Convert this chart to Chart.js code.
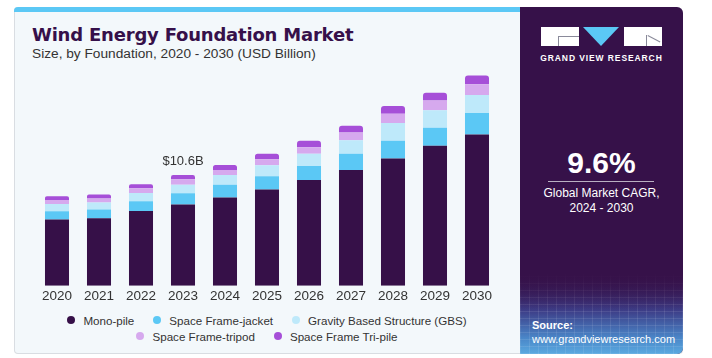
<!DOCTYPE html>
<html>
<head>
<meta charset="utf-8">
<script src="https://cdn.jsdelivr.net/npm/chart.js@4"></script>
<style>
  html, body { margin: 0; padding: 0; background: #ffffff; }
  body { width: 712px; height: 358px; position: relative; overflow: hidden; font-family: "Liberation Sans", Arial, sans-serif; }
  #card { position: absolute; left: 14px; top: 7px; width: 669px; height: 347px; background: #f3f8fb; border: 1px solid #d9dde2; border-top: none; border-radius: 4px 6px 4px 4px; box-sizing: border-box; }
  #stripe { position: absolute; left: 14px; top: 7px; width: 507px; height: 5px; background: #5bc8f5; border-radius: 4px 0 0 0; }
  #title { position: absolute; left: 32px; top: 24px; font-family: "DejaVu Sans", sans-serif; font-weight: bold; font-size: 18px; color: #36104a; white-space: nowrap; letter-spacing: -0.2px; }
  #subtitle { position: absolute; left: 32px; top: 46px; font-size: 13.7px; color: #333; white-space: nowrap; }
  #chartwrap { position: absolute; left: 14px; top: 56px; width: 506px; height: 256px; }
  #legend { position: absolute; left: 14px; width: 506px; top: 312px; font-size: 11.6px; color: #333; }
  .lrow { display: flex; justify-content: center; height: 16px; align-items: center; }
  .litem { display: flex; align-items: center; margin: 0 9.5px; white-space: nowrap; }
  .ldot { width: 8px; height: 8px; border-radius: 50%; margin-right: 8px; }
  #panel { position: absolute; left: 520px; top: 7px; width: 163px; height: 347px; background: #361149; border-radius: 0 6px 6px 0; overflow: hidden; }
  #panelglow { position: absolute; left: 0; bottom: 0; width: 163px; height: 80px;
    background:
      repeating-linear-gradient(90deg, rgba(255,255,255,0.09) 0 1px, transparent 1px 9px),
      repeating-linear-gradient(0deg, rgba(255,255,255,0.09) 0 1px, transparent 1px 7px),
      linear-gradient(180deg, rgba(54,17,73,0) 0%, #3d3c86 45%, #4a86c8 80%, #5aa9e0 100%); }
  #panelglow::before { content: ""; position: absolute; left: 0; top: 0; width: 100%; height: 45%; background: linear-gradient(180deg, #361149 0%, rgba(54,17,73,0) 100%); }
  .logobox { position: absolute; top: 20px; height: 19px; background: #ffffff; }
  #lb1 { left: 21px; width: 38px; }
  #lb3 { left: 104px; width: 38px; }
  #ltri { position: absolute; left: 63px; top: 20px; width: 0; height: 0; border-left: 18.5px solid transparent; border-right: 18.5px solid transparent; border-top: 19px solid #5bc8f5; }
  #lb1 .g1 { position: absolute; left: 17px; top: 9px; width: 21px; height: 1px; background: #8a8a9a; }
  #lb1 .g2 { position: absolute; left: 17px; top: 9px; width: 1px; height: 10px; background: #8a8a9a; }
  #lb3 .r1 { position: absolute; left: 24px; top: 8px; width: 14px; height: 1px; background: #8a8a9a; transform: rotate(28deg); transform-origin: 0 0; }
  #lb3 .r2 { position: absolute; left: 22px; top: 8px; width: 1px; height: 11px; background: #8a8a9a; }
  #gvr { position: absolute; left: 0; width: 163px; top: 46px; text-align: center; color: #fff; font-weight: bold; font-size: 8.5px; letter-spacing: 0.9px; }
  #cagr { position: absolute; left: 0; width: 163px; top: 139px; text-align: center; color: #fff; font-weight: bold; font-size: 30px; }
  #cline { position: absolute; left: 28px; width: 106px; top: 174px; height: 1px; background: #b9b0c2; }
  #cagrtxt { position: absolute; left: 0; width: 163px; top: 179px; text-align: center; color: #fff; font-size: 12px; line-height: 15px; }
  #src { position: absolute; left: 12px; top: 311px; color: #fff; font-size: 11px; line-height: 14px; }
</style>
</head>
<body>
<div id="card"></div>
<div id="stripe"></div>
<div id="title">Wind Energy Foundation Market</div>
<div id="subtitle">Size, by Foundation, 2020 - 2030 (USD Billion)</div>
<div id="chartwrap"><canvas id="c" width="506" height="256"></canvas></div>
<div id="legend"></div>
<div id="panel">
  <div id="panelglow"></div>
  <div class="logobox" id="lb1"><div class="g1"></div><div class="g2"></div></div>
  <div id="ltri"></div>
  <div class="logobox" id="lb3"><div class="r1"></div><div class="r2"></div></div>
  <div id="gvr">GRAND VIEW RESEARCH</div>
  <div id="cagr">9.6%</div>
  <div id="cline"></div>
  <div id="cagrtxt">Global Market CAGR,<br>2024 - 2030</div>
  <div id="src"><b>Source:</b><br>www.grandviewresearch.com</div>
</div>
<script>
const years = ["2020","2021","2022","2023","2024","2025","2026","2027","2028","2029","2030"];
const seriesNames = ["Mono-pile","Space Frame-jacket","Gravity Based Structure (GBS)","Space Frame-tripod","Space Frame Tri-pile"];
const seriesColors = ["#361048","#5bc8f5","#bee9fa","#d6a9ee","#a64fd8"];
const monoPile     = [6.35, 6.47, 7.17, 7.79, 8.46, 9.23, 10.13, 11.09, 12.18, 13.40, 14.49];
const frameJacket  = [0.79, 0.83, 0.93, 1.06, 1.22, 1.25, 1.35, 1.54, 1.70, 1.73, 2.05];
const gbs          = [0.69, 0.67, 0.79, 0.83, 0.93, 1.06, 1.15, 1.31, 1.70, 1.67, 1.73];
const frameTripod  = [0.38, 0.38, 0.44, 0.51, 0.48, 0.58, 0.64, 0.74, 0.90, 0.93, 1.03];
const frameTriPile = [0.37, 0.38, 0.40, 0.42, 0.48, 0.51, 0.61, 0.64, 0.74, 0.74, 0.83];
const annotationYear = "2023";
const annotationText = "$10.6B";
const seriesValues = [monoPile, frameJacket, gbs, frameTripod, frameTriPile];

const datasets = seriesValues.map((vals, i) => ({
  label: seriesNames[i],
  data: vals,
  backgroundColor: seriesColors[i],
  borderWidth: 0,
  borderRadius: i === seriesValues.length - 1 ? {topLeft: 3, topRight: 3, bottomLeft: 0, bottomRight: 0} : 0,
  borderSkipped: false,
  barPercentage: 0.8,
  categoryPercentage: 0.715
}));

const annotate = {
  id: 'annotate',
  afterDatasetsDraw(chart) {
    const idx = years.indexOf(annotationYear);
    const metas = chart.data.datasets.map((d, i) => chart.getDatasetMeta(i));
    const top = metas[metas.length - 1].data[idx];
    const ctx = chart.ctx;
    ctx.save();
    ctx.font = '13px "Liberation Sans", Arial, sans-serif';
    ctx.fillStyle = '#333333';
    ctx.textAlign = 'center';
    ctx.textBaseline = 'alphabetic';
    ctx.fillText(annotationText, top.x, top.y - 10);
    ctx.restore();
  }
};

const chart = new Chart(document.getElementById('c'), {
  type: 'bar',
  data: { labels: years, datasets },
  options: {
    responsive: false,
    animation: false,
    devicePixelRatio: 1,
    layout: { padding: { left: 22, right: 22, top: 0, bottom: 6 } },
    plugins: { legend: { display: false }, tooltip: { enabled: false } },
    scales: {
      x: {
        stacked: true,
        grid: { display: false, drawTicks: false },
        border: { display: false },
        ticks: { color: '#333333', font: { size: 13.5, family: '"Liberation Sans", Arial, sans-serif' }, padding: 2, maxRotation: 0 }
      },
      y: {
        stacked: true,
        display: false,
        min: 0,
        max: 22
      }
    }
  },
  plugins: [annotate]
});

// HTML legend built from the series arrays
const legend = document.getElementById('legend');
const rows = [[0,1,2],[3,4]];
rows.forEach(r => {
  const row = document.createElement('div');
  row.className = 'lrow';
  r.forEach(i => {
    const it = document.createElement('div');
    it.className = 'litem';
    const dot = document.createElement('span');
    dot.className = 'ldot';
    dot.style.background = seriesColors[i];
    const t = document.createElement('span');
    t.textContent = seriesNames[i];
    it.appendChild(dot); it.appendChild(t);
    row.appendChild(it);
  });
  legend.appendChild(row);
});
</script>
</body>
</html>
